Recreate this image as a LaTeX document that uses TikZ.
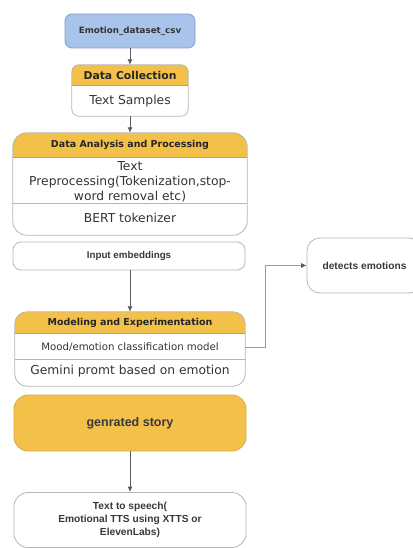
\documentclass[tikz,border=0pt]{standalone}
\usepackage{fontspec}
\setmainfont{DejaVu Sans}
\newfontfamily\arialfont{Liberation Sans}
\usepackage{tikz}
\usetikzlibrary{arrows.meta,calc}

\definecolor{hdryellow}{HTML}{F3C04A}
\definecolor{hdrrule}{HTML}{C9A24A}
\definecolor{csvblue}{HTML}{A9C4EB}
\definecolor{csvline}{HTML}{7F9DCB}
\definecolor{framegray}{HTML}{B5B5B5}
\definecolor{arrowgray}{HTML}{5C5C5C}
\definecolor{storyline}{HTML}{D6AA47}

\begin{document}
\begin{tikzpicture}[x=1pt, y=-1pt, >={Latex[length=5.5pt,width=5pt]},
    frame/.style={draw=framegray, line width=0.8pt},
    conn/.style={->, draw=arrowgray, line width=0.8pt},
    sideconn/.style={-{Latex[length=5.5pt,width=5pt,color=arrowgray]}, draw=gray!80, line width=0.7pt},
    hdrtext/.style={font=\bfseries\fontsize{9.5}{11}\selectfont, text=black!85},
    rowtext/.style={font=\fontsize{12.3}{15}\selectfont, text=black!80},
    smalltext/.style={font=\arialfont\bfseries\fontsize{10.2}{13}\selectfont, text=black!78},
    blank/.style={inner sep=0pt}]
    % Page frame
    \useasboundingbox (0,0) rectangle (412,548);

    % Source file
    \node[fill=csvblue, draw=csvline, line width=0.8pt, rounded corners=7,
          minimum width=130, minimum height=34,
          font=\bfseries\fontsize{8.7}{10}\selectfont, text=black!80] (csv) at (130,31) {Emotion\_dataset\_csv};

    % Data collection
    \node[blank, minimum width=116, minimum height=51] (coll) at (130,90.5) {};
    \begin{scope}
        \clip[rounded corners=7] (coll.south west) rectangle (coll.north east);
        \fill[hdryellow] (coll.north west) rectangle (coll.east |- 0,85);
    \end{scope}
    \draw[frame, rounded corners=7] (coll.south west) rectangle (coll.north east);
    \draw[hdrrule] (coll.west |- 0,85) -- (coll.east |- 0,85);
    \node[hdrtext, font=\bfseries\fontsize{10.8}{12}\selectfont] (colltitle) at (130,75) {Data Collection};
    \node[rowtext] (samples) at (130,101) {Text Samples};

    % Data analysis
    \node[blank, minimum width=234, minimum height=102] (ana) at (130,184) {};
    \begin{scope}
        \clip[rounded corners=14] (ana.south west) rectangle (ana.north east);
        \fill[hdryellow] (ana.north west) rectangle (ana.east |- 0,157);
    \end{scope}
    \draw[frame, rounded corners=14] (ana.south west) rectangle (ana.north east);
    \draw[hdrrule] (ana.west |- 0,157) -- (ana.east |- 0,157);
    \draw[frame] (ana.west |- 0,203) -- (ana.east |- 0,203);
    \node[hdrtext] (anatitle) at (130,145) {Data Analysis and Processing};
    \node[rowtext, align=center] (prep) at (130,182) {Text\\Preprocessing(Tokenization,stop-\\word removal etc)};
    \node[rowtext] (bert) at (130,218) {BERT tokenizer};

    % Embeddings
    \node[frame, rounded corners=8, minimum width=232, minimum height=28,
          smalltext, font=\arialfont\bfseries\fontsize{9.8}{11}\selectfont] (input) at (129,256) {Input embeddings};

    % Modeling
    \node[blank, minimum width=230, minimum height=74] (model) at (130,349) {};
    \begin{scope}
        \clip[rounded corners=12] (model.south west) rectangle (model.north east);
        \fill[hdryellow] (model.north west) rectangle (model.east |- 0,333);
    \end{scope}
    \draw[frame, rounded corners=12] (model.south west) rectangle (model.north east);
    \draw[hdrrule] (model.west |- 0,333) -- (model.east |- 0,333);
    \draw[frame] (model.west |- 0,359) -- (model.east |- 0,359);
    \node[hdrtext] (modeltitle) at (130,323) {Modeling and Experimentation};
    \node[rowtext, font=\fontsize{10.2}{12}\selectfont] (mood) at (130,347) {Mood/emotion classification model};
    \node[rowtext] (gemini) at (130,371) {Gemini promt based on emotion};

    % Side output
    \node[frame, rounded corners=13, minimum width=115, minimum height=55,
          smalltext] (detects) at (364.5,265.5) {detects emotions};

    % Story and speech
    \node[fill=hdryellow, draw=storyline, line width=0.8pt, rounded corners=14,
          minimum width=232, minimum height=56,
          smalltext, font=\arialfont\bfseries\fontsize{12.5}{14}\selectfont] (story) at (130,423) {genrated story};
    \node[frame, rounded corners=14, minimum width=232, minimum height=55,
          smalltext, align=center] (tts) at (130,520) {Text to speech(\\Emotional TTS using XTTS or\\ElevenLabs)};

    % Connectors
    \draw[conn] (csv.south) -- (coll.north);
    \draw[conn] (coll.south) -- (ana.north);
    \draw[conn] (input.south -| model.north) -- (model.north);
    \draw[sideconn] (model.east |- mood) -- ++(20,0) |- (detects.west);
    \draw[conn] (story.south) -- (tts.north);
\end{tikzpicture}
\end{document}
